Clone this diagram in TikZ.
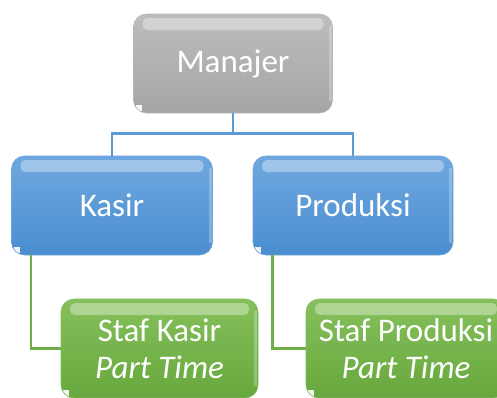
\documentclass[tikz,border=0pt]{standalone}
\usepackage{fontspec}
\setmainfont{Carlito}
\usetikzlibrary{positioning,calc}
\definecolor{grayA}{HTML}{A5A5A5}
\definecolor{grayT}{HTML}{BDBDBD}
\definecolor{blueA}{HTML}{4A8ED0}
\definecolor{blueT}{HTML}{6FA8DF}
\definecolor{greenA}{HTML}{67A83D}
\definecolor{greenT}{HTML}{86C05C}
\definecolor{blueL}{HTML}{5B9BD5}
\definecolor{greenL}{HTML}{70AD47}
\tikzset{
  glossbox/.style n args={2}{rectangle, rounded corners=13pt, minimum width=#1, minimum height=99pt,
    top color=#2T, bottom color=#2A, draw=#2A!80!white, line width=0.6pt,
    text=white, font=\fontsize{33}{37}\selectfont, align=center, inner sep=0pt,
    path picture={
      \fill[white, opacity=0.35, rounded corners=5pt]
        ([xshift=9pt,yshift=-4pt]path picture bounding box.north west) rectangle
        ([xshift=-9pt,yshift=-16pt]path picture bounding box.north east);
      \fill[white, opacity=0.25, sharp corners]
        ([xshift=-4pt,yshift=-12pt]path picture bounding box.north east) rectangle
        ([xshift=-1pt,yshift=12pt]path picture bounding box.south east);
      \fill[white, opacity=0.9, sharp corners]
        ([xshift=2pt,yshift=2pt]path picture bounding box.south west) rectangle
        ([xshift=8pt,yshift=8pt]path picture bounding box.south west);
    }},
  blueconn/.style={draw=blueL, line width=2.5pt},
  greenconn/.style={draw=greenL, line width=2.5pt}
}
\begin{document}
\begin{tikzpicture}[x=1pt,y=-1pt]
\useasboundingbox (0,0) rectangle (497,397);
\clip (0,0) rectangle (497,397);
\node[glossbox={199pt}{gray}] (man) at (233,63.5) {Manajer};
\node[glossbox={201pt}{blue}] (kas) at (112,205.5) {Kasir};
\node[glossbox={200pt}{blue}] (pro) at (353,205.5) {Produksi};
\node[glossbox={197pt}{green}] (sk) at (159.5,348.5) {Staf Kasir\\\textit{Part Time}};
\node[glossbox={200pt}{green}] (sp) at (406,348.5) {Staf Produksi\\\textit{Part Time}};
\draw[blueconn] (man.south) -- ++(0,20) -| (kas.north);
\draw[blueconn] (man.south) -- ++(0,20) -| (pro.north);
\draw[greenconn] ([xshift=20pt]kas.south west) |- (sk.west);
\draw[greenconn] ([xshift=20pt]pro.south west) |- (sp.west);
\end{tikzpicture}
\end{document}
